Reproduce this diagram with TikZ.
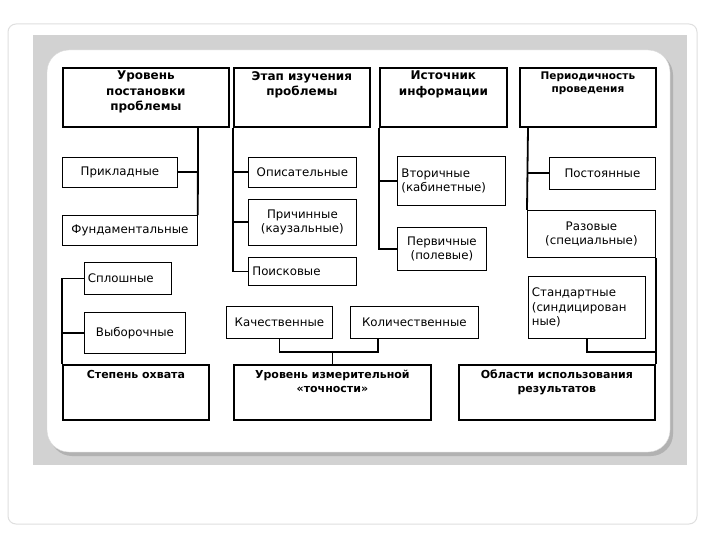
\documentclass[tikz,border=0pt]{standalone}
\usepackage{fontspec}
\setmainfont{DejaVu Sans}
\begin{document}
\begin{tikzpicture}[x=1pt,y=-1pt,
  box/.style={draw,line width=0.8pt,anchor=north west,inner sep=2pt,align=center,font=\fontsize{11.8}{14.5}\selectfont},
  head/.style={draw,line width=1.8pt,anchor=north west,inner sep=2pt,align=center},
  htext/.style={anchor=north,align=center,font=\bfseries\fontsize{12}{15.5}\selectfont,inner sep=1pt},
  con/.style={line width=1.8pt}]
\useasboundingbox (0,0) rectangle (720,540);
\fill[white] (0,0) rectangle (720,540);
\draw[gray!25,line width=1pt,rounded corners=8pt] (8,24) rectangle (697,524);
\fill[gray!35] (33,35) rectangle (687,465);
\fill[gray!60,rounded corners=22pt] (50,53) rectangle (673,456);
\draw[white!85!black,fill=white,rounded corners=22pt] (47,50) rectangle (670,452);
% headers
\node[head,minimum width=166,minimum height=59] (h1) at (62,67) {};
\node[htext] at (h1.north) [yshift=-3] {Уровень\\постановки\\проблемы};
\node[head,minimum width=136,minimum height=59] (h2) at (233,67) {};
\node[htext] at (h2.north) [yshift=-3] {Этап изучения\\проблемы};
\node[head,minimum width=127,minimum height=59] (h3) at (379,67) {};
\node[htext] at (h3.north) [yshift=-3] {Источник\\информации};
\node[head,minimum width=136,minimum height=59] (h4) at (519,67) {};
\node[htext,font=\bfseries\fontsize{10.5}{13}\selectfont] at (h4.north) [yshift=-4] {Периодичность\\проведения};
\node[head,minimum width=146,minimum height=55] (b1) at (62,364) {};
\node[htext,font=\bfseries\fontsize{11}{13.5}\selectfont] at (b1.north) [yshift=-5] {Степень охвата};
\node[head,minimum width=197,minimum height=55] (b2) at (233,364) {};
\node[htext,font=\bfseries\fontsize{11}{13.5}\selectfont] at (b2.north) [yshift=-5] {Уровень измерительной\\«точности»};
\node[head,minimum width=196,minimum height=55] (b3) at (458,364) {};
\node[htext,font=\bfseries\fontsize{11}{13.5}\selectfont] at (b3.north) [yshift=-5] {Области использования\\результатов};
% leaves
\node[box,minimum width=115,minimum height=30] (a1) at (62,157) {Прикладные};
\node[box,minimum width=135,minimum height=30] (a2) at (62,215) {Фундаментальные};
\node[box,minimum width=108,minimum height=30] (e1) at (248,157) {Описательные};
\node[box,minimum width=108,minimum height=46] (e2) at (248,199) {Причинные\\(каузальные)};
\node[box,minimum width=108,minimum height=28,text width=100,align=left] (e3) at (248,257) {Поисковые};
\node[box,minimum width=108,minimum height=49,text width=100,align=left] (s1) at (397,156) {Вторичные\\(кабинетные)};
\node[box,minimum width=89,minimum height=43] (s2) at (397,227) {Первичные\\(полевые)};
\node[box,minimum width=106,minimum height=32] (p1) at (549,157) {Постоянные};
\node[box,minimum width=128,minimum height=47] (p2) at (527,210) {Разовые\\(специальные)};
\node[box,minimum width=117,minimum height=62,text width=110,align=left] (p3) at (528,276) {Стандартные\\(синдицирован\\ные)};
\node[box,minimum width=87,minimum height=32,text width=80,align=left] (c1) at (84,262) {Сплошные};
\node[box,minimum width=101,minimum height=41] (c2) at (84,312) {Выборочные};
\node[box,minimum width=106,minimum height=32] (m1) at (226,306) {Качественные};
\node[box,minimum width=128,minimum height=32] (m2) at (350,306) {Количественные};
% connectors
\draw[con] (h1.south -| 198,0) -- (a2.north east);
\draw[con] (a1.east) -- (a1.east -| 198,0);
\draw[con] (h2.south west) |- (e3.west);
\draw[con] (e1.west -| h2.west) -- (e1.west);
\draw[con] (e2.west -| h2.west) -- (e2.west);
\draw[con] (h3.south west) |- (s2.west);
\draw[con] (s1.west -| h3.west) -- (s1.west);
\draw[con] (h4.south -| 528,0) -- (p2.north west);
\draw[con] (p1.west -| 528,0) -- (p1.west);
\draw[con] (p2.south east) -- (b3.north east);
\draw[con] (p3.south) -- ++(0,13) -| (b3.north east);
\draw[con] (c1.west) -| (b1.north west);
\draw[con] (c2.west) -- (c2.west -| b1.west);
\draw[con] (m1.south) -- ++(0,13) coordinate (j1) -- (j1 -| 378,0) -- (m2.south west -| 378,0);
\draw[con] (j1 -| b2.north) -- (b2.north);
\end{tikzpicture}
\end{document}
